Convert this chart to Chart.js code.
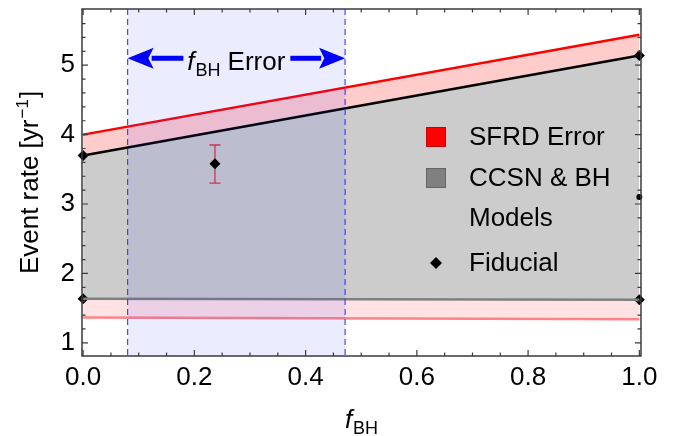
<!DOCTYPE html>
<html>
<head>
<meta charset="utf-8">
<script src="https://cdn.jsdelivr.net/npm/chart.js@4.4.0/dist/chart.umd.min.js"></script>
<style>
  html, body { margin: 0; padding: 0; background: #fff; }
  #wrap { width: 673px; height: 436px; }
</style>
</head>
<body>
<div id="wrap"><canvas id="chart"></canvas></div>
<script>
// values
const fBH = [0, 1];
const sfrdUpper = [4.0, 5.44];
const modelUpper = [3.70, 5.14];
const modelLower = [1.635, 1.62];
const sfrdLower = [1.365, 1.34];

const fiducialX = [0, 1, 0, 1];
const fiducialY = [3.70, 5.14, 1.635, 1.62];
const extraX = [1];
const extraY = [3.10];

const measX = [0.237];
const measY = [3.58];
const measLo = [3.30];
const measHi = [3.85];

const bandRange = [0.08, 0.471];
const arrowY = 5.1;

const xTicks = [0, 0.2, 0.4, 0.6, 0.8, 1.0];
const yTicks = [1, 2, 3, 4, 5];
const xMinor = [0.05, 0.1, 0.15, 0.25, 0.3, 0.35, 0.45, 0.5, 0.55, 0.65, 0.7, 0.75, 0.85, 0.9, 0.95];
const yMinor = [1.2, 1.4, 1.6, 1.8, 2.2, 2.4, 2.6, 2.8, 3.2, 3.4, 3.6, 3.8, 4.2, 4.4, 4.6, 4.8, 5.2, 5.4, 5.6];

const legendLabels = ['SFRD Error', 'CCSN & BH', 'Models', 'Fiducial'];

const FONT = 'Liberation Sans, Arial, sans-serif';

function pts(xs, ys) {
  return xs.map((x, i) => ({ x: x, y: ys[i] }));
}

function lineSet(ys, color, fillColor) {
  return {
    type: 'line',
    data: pts(fBH, ys),
    borderColor: color,
    borderWidth: 2.5,
    backgroundColor: fillColor || 'transparent',
    fill: fillColor ? '+1' : false,
    pointRadius: 0,
    tension: 0,
  };
}

// draw f with subscript BH, starting at x, baseline y; returns width
function drawFBH(ctx, x, y, size, measureOnly) {
  ctx.font = 'italic ' + size + 'px ' + FONT;
  const w1 = ctx.measureText('f').width;
  const sub = Math.round(size * 0.68);
  ctx.font = sub + 'px ' + FONT;
  const w2 = ctx.measureText('BH').width;
  if (!measureOnly) {
    ctx.font = 'italic ' + size + 'px ' + FONT;
    ctx.fillText('f', x, y);
    ctx.font = sub + 'px ' + FONT;
    ctx.fillText('BH', x + w1 + 1, y + size * 0.22);
  }
  return w1 + 1 + w2;
}

const decorations = {
  id: 'decorations',
  afterDatasetsDraw(chart) {
    const { ctx, chartArea: a, scales } = chart;
    const xs = scales.x, ys = scales.y;
    const x0 = xs.getPixelForValue(bandRange[0]);
    const x1 = xs.getPixelForValue(bandRange[1]);

    // f_BH error band
    ctx.save();
    ctx.fillStyle = 'rgba(40, 40, 255, 0.09)';
    ctx.fillRect(x0, a.top, x1 - x0, a.bottom - a.top);
    ctx.strokeStyle = 'rgba(40, 40, 255, 0.85)';
    ctx.lineWidth = 1.2;
    ctx.setLineDash([6, 4]);
    [x0, x1].forEach(px => {
      ctx.beginPath();
      ctx.moveTo(px, a.top);
      ctx.lineTo(px, a.bottom);
      ctx.stroke();
    });
    ctx.restore();

    // measurement with error bar
    ctx.save();
    measX.forEach((mx, i) => {
      const px = xs.getPixelForValue(mx);
      const lo = ys.getPixelForValue(measLo[i]);
      const hi = ys.getPixelForValue(measHi[i]);
      const py = ys.getPixelForValue(measY[i]);
      ctx.strokeStyle = 'rgb(200, 55, 80)';
      ctx.lineWidth = 1.3;
      ctx.beginPath();
      ctx.moveTo(px, lo); ctx.lineTo(px, hi);
      ctx.moveTo(px - 5.5, lo); ctx.lineTo(px + 5.5, lo);
      ctx.moveTo(px - 5.5, hi); ctx.lineTo(px + 5.5, hi);
      ctx.stroke();
      ctx.fillStyle = '#000';
      ctx.beginPath();
      ctx.moveTo(px, py - 5.5); ctx.lineTo(px + 5.5, py);
      ctx.lineTo(px, py + 5.5); ctx.lineTo(px - 5.5, py);
      ctx.closePath();
      ctx.fill();
    });
    ctx.restore();
  },
  afterDraw(chart) {
    const { ctx, chartArea: a, scales } = chart;
    const xs = scales.x, ys = scales.y;
    ctx.save();

    // annotation: arrows + label
    const x0 = xs.getPixelForValue(bandRange[0]);
    const x1 = xs.getPixelForValue(bandRange[1]);
    const ay = ys.getPixelForValue(arrowY);
    const size = 26;
    ctx.fillStyle = '#000';
    ctx.textBaseline = 'alphabetic';
    ctx.textAlign = 'left';
    const wf = drawFBH(ctx, 0, 0, size, true);
    ctx.font = size + 'px ' + FONT;
    const gap = 7;
    const we = ctx.measureText('Error').width;
    const total = wf + gap + we;
    const tx = (x0 + x1) / 2 - total / 2;
    drawFBH(ctx, tx, ay + 12, size, false);
    ctx.font = size + 'px ' + FONT;
    ctx.fillText('Error', tx + wf + gap, ay + 12);

    ctx.fillStyle = '#0000ff';
    ctx.strokeStyle = '#0000ff';
    ctx.lineWidth = 5;
    const headL = 26, headH = 10.5;
    // left arrow
    ctx.beginPath();
    ctx.moveTo(x0 + headL - 2, ay); ctx.lineTo(tx - 4, ay);
    ctx.stroke();
    ctx.beginPath();
    ctx.moveTo(x0, ay); ctx.lineTo(x0 + headL, ay - headH);
    ctx.lineTo(x0 + headL * 0.8, ay); ctx.lineTo(x0 + headL, ay + headH);
    ctx.closePath(); ctx.fill();
    // right arrow
    ctx.beginPath();
    ctx.moveTo(tx + total + 5, ay); ctx.lineTo(x1 - headL + 2, ay);
    ctx.stroke();
    ctx.beginPath();
    ctx.moveTo(x1, ay); ctx.lineTo(x1 - headL, ay - headH);
    ctx.lineTo(x1 - headL * 0.8, ay); ctx.lineTo(x1 - headL, ay + headH);
    ctx.closePath(); ctx.fill();

    // legend
    const lx = 436, textX = 469;
    const rows = [137, 178, 218, 263];
    ctx.fillStyle = '#ff0000';
    ctx.fillRect(lx - 9.5, rows[0] - 9.5, 19, 19);
    ctx.strokeStyle = '#cc0000';
    ctx.lineWidth = 1;
    ctx.strokeRect(lx - 9.5, rows[0] - 9.5, 19, 19);
    ctx.fillStyle = '#808080';
    ctx.fillRect(lx - 9.5, rows[1] - 9.5, 19, 19);
    ctx.strokeStyle = '#666';
    ctx.strokeRect(lx - 9.5, rows[1] - 9.5, 19, 19);
    ctx.fillStyle = '#000';
    ctx.beginPath();
    ctx.moveTo(lx, rows[3] - 6); ctx.lineTo(lx + 6, rows[3]);
    ctx.lineTo(lx, rows[3] + 6); ctx.lineTo(lx - 6, rows[3]);
    ctx.closePath(); ctx.fill();
    ctx.font = size + 'px ' + FONT;
    ctx.textBaseline = 'middle';
    legendLabels.forEach((t, i) => ctx.fillText(t, textX, rows[i] + 1));

    // frame and inward ticks
    ctx.strokeStyle = '#3a3a3a';
    ctx.lineWidth = 1.5;
    ctx.strokeRect(a.left, a.top, a.right - a.left, a.bottom - a.top);
    ctx.lineWidth = 1.2;
    ctx.beginPath();
    const tickX = (v, len) => {
      const px = xs.getPixelForValue(v);
      ctx.moveTo(px, a.bottom); ctx.lineTo(px, a.bottom - len);
      ctx.moveTo(px, a.top); ctx.lineTo(px, a.top + len);
    };
    const tickY = (v, len) => {
      const py = ys.getPixelForValue(v);
      ctx.moveTo(a.left, py); ctx.lineTo(a.left + len, py);
      ctx.moveTo(a.right, py); ctx.lineTo(a.right - len, py);
    };
    xTicks.forEach(v => tickX(v, 6));
    xMinor.forEach(v => tickX(v, 3.5));
    yTicks.forEach(v => tickY(v, 6));
    yMinor.forEach(v => tickY(v, 3.5));
    ctx.stroke();

    // x axis title
    ctx.fillStyle = '#000';
    ctx.textBaseline = 'alphabetic';
    const wx = drawFBH(ctx, 0, 0, size, true);
    drawFBH(ctx, (a.left + a.right) / 2 - wx / 2, 428, size, false);

    // y axis title
    ctx.translate(37.5, (a.top + a.bottom) / 2);
    ctx.rotate(-Math.PI / 2);
    ctx.font = size + 'px ' + FONT;
    const p1 = 'Event rate [yr';
    const w1 = ctx.measureText(p1).width;
    ctx.font = '17px ' + FONT;
    const w2 = ctx.measureText('\u22121').width;
    ctx.font = size + 'px ' + FONT;
    const w3 = ctx.measureText(']').width;
    const start = -(w1 + w2 + w3 + 2) / 2;
    ctx.fillText(p1, start, 0);
    ctx.font = '17px ' + FONT;
    ctx.fillText('\u22121', start + w1 + 1, -10);
    ctx.font = size + 'px ' + FONT;
    ctx.fillText(']', start + w1 + w2 + 2, 0);

    ctx.restore();
  }
};

new Chart(document.getElementById('chart'), {
  data: {
    datasets: [
      lineSet(sfrdUpper, '#ff0000', '#ffcccc'),
      lineSet(modelUpper, '#000000', '#cccccc'),
      lineSet(modelLower, '#7f7f7f', '#ffe2e4'),
      lineSet(sfrdLower, 'rgb(255, 130, 135)'),
      {
        type: 'scatter',
        data: pts(fiducialX, fiducialY),
        pointStyle: 'rectRot',
        pointRadius: 5.5,
        backgroundColor: '#000',
        borderColor: '#000',
        borderWidth: 0,
        clip: false,
      },
      {
        type: 'scatter',
        data: pts(extraX, extraY),
        pointRadius: 3,
        backgroundColor: '#000',
        borderWidth: 0,
        clip: false,
      },
    ],
  },
  options: {
    responsive: true,
    maintainAspectRatio: false,
    animation: false,
    layout: { padding: { top: 9, right: 32, left: 0, bottom: 0 } },
    plugins: {
      legend: { display: false },
      tooltip: { enabled: false },
      filler: { drawTime: 'beforeDatasetsDraw' },
    },
    scales: {
      x: {
        type: 'linear',
        min: -0.002,
        max: 1.003,
        grid: { display: false, drawTicks: false },
        border: { display: false },
        afterBuildTicks: (s) => { s.ticks = xTicks.map(v => ({ value: v })); },
        afterFit: (s) => { s.height = 80; s.paddingLeft = 0; s.paddingRight = 0; },
        ticks: {
          padding: 6,
          color: '#000',
          font: { family: FONT, size: 26 },
          maxRotation: 0,
          callback: (v) => v.toFixed(1),
        },
      },
      y: {
        type: 'linear',
        min: 0.81,
        max: 5.81,
        grid: { display: false, drawTicks: false },
        border: { display: false },
        afterBuildTicks: (s) => { s.ticks = yTicks.map(v => ({ value: v })); },
        afterFit: (s) => { s.width = 82; s.paddingTop = 0; s.paddingBottom = 0; },
        ticks: {
          padding: 7,
          color: '#000',
          font: { family: FONT, size: 26 },
          callback: (v) => String(v),
        },
      },
    },
  },
  plugins: [decorations],
});
</script>
</body>
</html>
